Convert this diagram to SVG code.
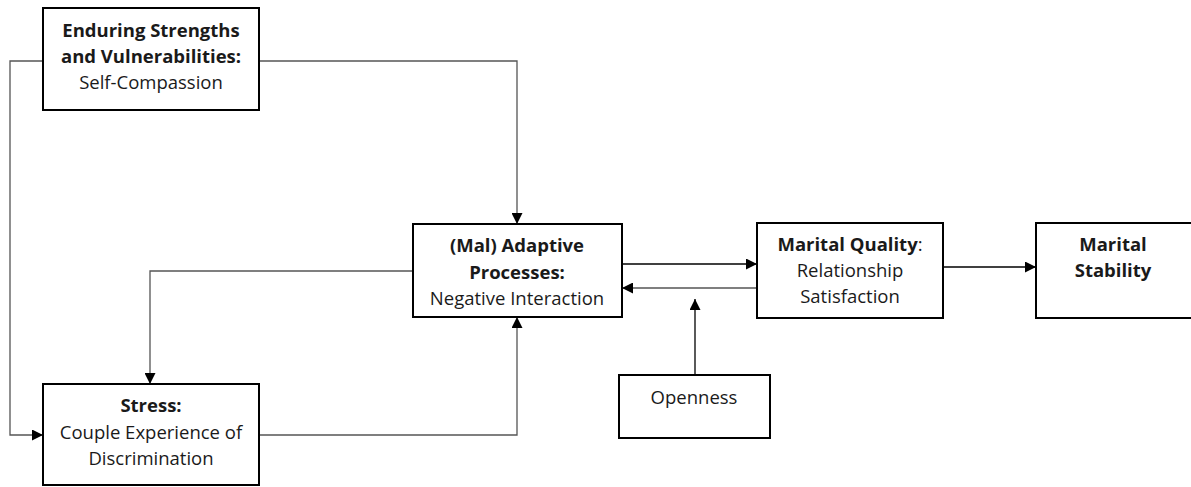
<svg xmlns="http://www.w3.org/2000/svg" width="1191" height="487" viewBox="0 0 1191 487">
<style>
.box{fill:#fff;stroke:#000;stroke-width:2}
.t{font-family:"Open Sans","Liberation Sans",sans-serif;font-size:18.5px;fill:#1a1a1a;text-anchor:middle}
.b{font-weight:bold}
.c{fill:none;stroke:#555;stroke-width:1.3}
.k{fill:none;stroke:#000;stroke-width:1.3}
</style>
<defs>
<marker id="ah" viewBox="0 0 10 10" refX="10" refY="5" markerWidth="11" markerHeight="11" markerUnits="userSpaceOnUse" orient="auto">
<path d="M0,0 L10,5 L0,10 z" fill="#000"/>
</marker>
</defs>
<rect width="1191" height="487" fill="#fff"/>
<g id="connectors">
<polyline class="c" points="43,61 10,61 10,435 43,435" marker-end="url(#ah)"/>
<polyline class="c" points="259,61 517,61 517,224" marker-end="url(#ah)"/>
<polyline class="c" points="413,271 150,271 150,384" marker-end="url(#ah)"/>
<polyline class="c" points="259,435 517,435 517,317" marker-end="url(#ah)"/>
<line class="k" x1="622" y1="264" x2="757" y2="264" marker-end="url(#ah)"/>
<line class="c" x1="757" y1="288" x2="622" y2="288" marker-end="url(#ah)"/>
<line class="k" x1="695" y1="375" x2="695" y2="299" marker-end="url(#ah)"/>
<line class="k" x1="943" y1="267" x2="1036" y2="267" marker-end="url(#ah)"/>
</g>
<g id="enduring">
<rect class="box" x="43" y="8" width="216" height="102"/>
<text class="t b" x="151" y="37">Enduring Strengths</text>
<text class="t b" x="151" y="63">and Vulnerabilities:</text>
<text class="t" x="151" y="89">Self-Compassion</text>
</g>
<g id="adaptive">
<rect class="box" x="413" y="224" width="209" height="93"/>
<text class="t b" x="517" y="252">(Mal) Adaptive</text>
<text class="t b" x="517" y="279">Processes:</text>
<text class="t" x="517" y="305">Negative Interaction</text>
</g>
<g id="quality">
<rect class="box" x="757" y="223" width="186" height="95"/>
<text class="t" x="850" y="251"><tspan class="b">Marital Quality</tspan>:</text>
<text class="t" x="850" y="277">Relationship</text>
<text class="t" x="850" y="303">Satisfaction</text>
</g>
<g id="stability">
<rect class="box" x="1036" y="223" width="160" height="95"/>
<text class="t b" x="1113" y="251">Marital</text>
<text class="t b" x="1113" y="277">Stability</text>
</g>
<g id="openness">
<rect class="box" x="619" y="375" width="151" height="63"/>
<text class="t" x="694" y="404">Openness</text>
</g>
<g id="stress">
<rect class="box" x="43" y="384" width="216" height="101"/>
<text class="t b" x="151" y="412">Stress:</text>
<text class="t" x="151" y="439">Couple Experience of</text>
<text class="t" x="151" y="465">Discrimination</text>
</g>
</svg>
